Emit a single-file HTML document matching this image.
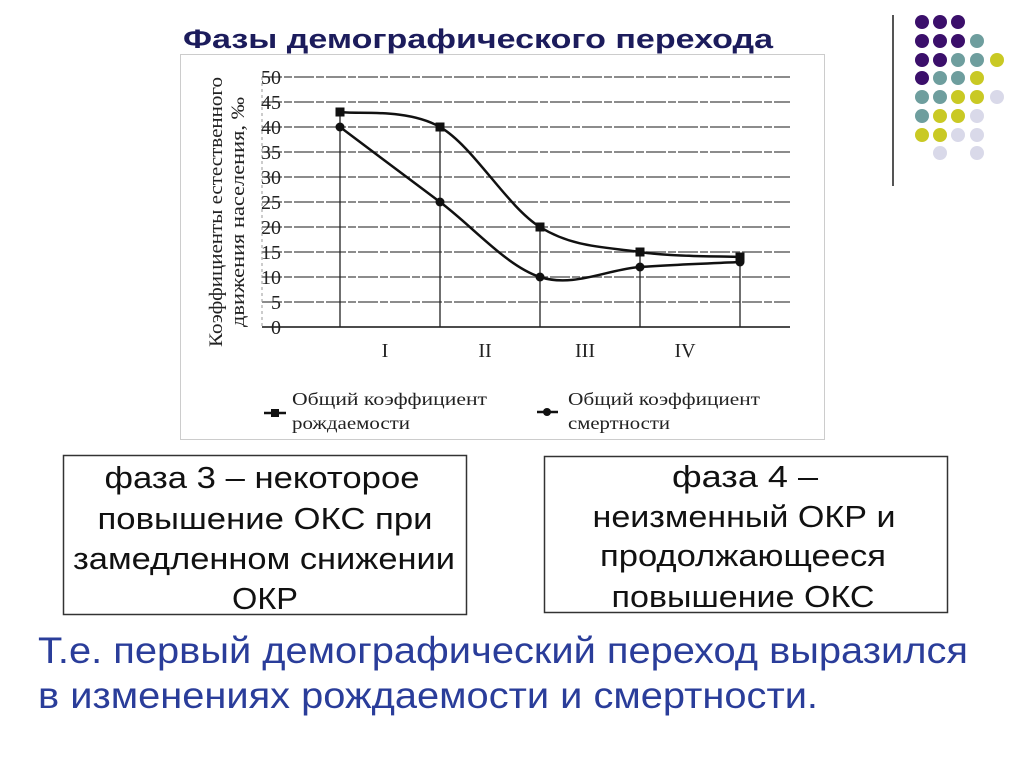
<!DOCTYPE html>
<html><head><meta charset="utf-8"><style>
body{margin:0;background:#fff;width:1024px;height:767px;overflow:hidden}
svg{display:block}
.s{font-family:"Liberation Serif","DejaVu Serif",serif;fill:#222}
.a{font-family:"Liberation Sans","DejaVu Sans",sans-serif}
</style></head><body>
<svg id="root" width="1024" height="767">
<line x1="893" y1="15" x2="893" y2="186" stroke="#555" stroke-width="2"/>
<g id="dots"></g>
<text x="478" y="48" text-anchor="middle" class="a" font-size="27" font-weight="bold" fill="#1c1c5c" textLength="590" lengthAdjust="spacingAndGlyphs">Фазы демографического перехода</text>
<rect x="180.5" y="54.5" width="644" height="385" fill="#fff" stroke="#ccc"/>
<g id="chart"></g>
<g transform="translate(228,212) rotate(-90)">
<text x="0" y="-6" text-anchor="middle" class="s" font-size="19" textLength="270" lengthAdjust="spacingAndGlyphs">Коэффициенты естественного</text>
<text x="0" y="16" text-anchor="middle" class="s" font-size="19" textLength="230" lengthAdjust="spacingAndGlyphs">движения населения, ‰</text>
</g>
<g>
<g>
<line x1="264" y1="413" x2="286" y2="413" stroke="#111" stroke-width="2.5"/><rect x="271" y="409" width="8" height="8" fill="#111"/>
<text x="292" y="405" class="s" font-size="18" textLength="195" lengthAdjust="spacingAndGlyphs">Общий коэффициент</text><text x="292" y="429" class="s" font-size="18" textLength="118" lengthAdjust="spacingAndGlyphs">рождаемости</text></g>
<g>
<line x1="537" y1="412" x2="558" y2="412" stroke="#111" stroke-width="2.5"/><circle cx="547" cy="412" r="4" fill="#111"/>
<text x="568" y="405" class="s" font-size="18" textLength="192" lengthAdjust="spacingAndGlyphs">Общий коэффициент</text><text x="568" y="429" class="s" font-size="18" textLength="102" lengthAdjust="spacingAndGlyphs">смертности</text></g>
</g>
<g class="a" font-size="31" fill="#111" text-anchor="middle">
<rect x="63.5" y="455.5" width="403" height="159" fill="none" stroke="#333" stroke-width="1.5"/>
<text x="262" y="488" textLength="315" lengthAdjust="spacingAndGlyphs">фаза 3 – некоторое</text>
<text x="265" y="529" textLength="335" lengthAdjust="spacingAndGlyphs">повышение ОКС при</text>
<text x="264" y="569" textLength="382" lengthAdjust="spacingAndGlyphs">замедленном снижении</text>
<text x="265" y="609" textLength="66" lengthAdjust="spacingAndGlyphs">ОКР</text>
</g>
<g class="a" font-size="31" fill="#111" text-anchor="middle">
<rect x="544.5" y="456.5" width="403" height="156" fill="none" stroke="#333" stroke-width="1.5"/>
<text x="745" y="487" textLength="146" lengthAdjust="spacingAndGlyphs">фаза 4 –</text>
<text x="744" y="527" textLength="303" lengthAdjust="spacingAndGlyphs">неизменный ОКР и</text>
<text x="743" y="566" textLength="286" lengthAdjust="spacingAndGlyphs">продолжающееся</text>
<text x="743" y="607" textLength="263" lengthAdjust="spacingAndGlyphs">повышение ОКС</text>
</g>
<g class="a" font-size="37" fill="#2a3d9a">
<text x="38" y="663" textLength="930" lengthAdjust="spacingAndGlyphs">Т.е. первый демографический переход выразился</text>
<text x="38" y="708" textLength="780" lengthAdjust="spacingAndGlyphs">в изменениях рождаемости и смертности.</text>
</g>
</svg>
<script>
const NS="http://www.w3.org/2000/svg";
const categories=["p1","p2","p3","p4","p5"];
const birthRate=[43,40,20,15,14];
const deathRate=[40,25,10,12,13];
const yTicks=[0,5,10,15,20,25,30,35,40,45,50];
const phaseLabels=["I","II","III","IV"];
const X0=340,DX=100,Y0=327,YS=5;
const xs=i=>X0+i*DX, ys=v=>Y0-v*YS;
const ch=document.getElementById('chart');
function mk(t,a,p){const e=document.createElementNS(NS,t);for(const k in a)e.setAttribute(k,a[k]);(p||ch).appendChild(e);return e;}
yTicks.forEach(v=>{
 const l=mk('line',{x1:262,x2:790,y1:ys(v),y2:ys(v),stroke:v===0?'#333':'#666','stroke-width':v===0?1.8:1.4,'stroke-dasharray':v===0?'':'20 2 8 2'});
 
 
 const t=mk('text',{x:281,y:ys(v)+7,'text-anchor':'end',class:'s','font-size':20});t.textContent=v;
 
 
});
mk('line',{x1:262,x2:262,y1:ys(50),y2:ys(0),stroke:'#999','stroke-dasharray':'3 3'});
phaseLabels.forEach((p,i)=>{
 const t=mk('text',{x:xs(i)+DX/2-5,y:357,'text-anchor':'middle',class:'s','font-size':20});t.textContent=p;
 
 
});
categories.forEach((c,i)=>{
 const l=mk('line',{x1:xs(i),x2:xs(i),y1:ys(0),y2:ys(Math.max(birthRate[i],deathRate[i])),stroke:'#222','stroke-width':1.3});
 
 
});
function path(arr){
 const P=arr.map((v,i)=>[xs(i),ys(v)]);let d=`M${P[0][0]},${P[0][1]}`;
 for(let i=0;i<P.length-1;i++){const p0=P[Math.max(i-1,0)],p1=P[i],p2=P[i+1],p3=P[Math.min(i+2,P.length-1)];
  d+=` C${p1[0]+(p2[0]-p0[0])/6},${p1[1]+(p2[1]-p0[1])/6} ${p2[0]-(p3[0]-p1[0])/6},${p2[1]-(p3[1]-p1[1])/6} ${p2[0]},${p2[1]}`;}
 return d;}
const pb=mk('path',{d:path(birthRate),fill:'none',stroke:'#111','stroke-width':2.5});


const pd=mk('path',{d:path(deathRate),fill:'none',stroke:'#111','stroke-width':2.5});


birthRate.forEach((v,i)=>{const r=mk('rect',{x:xs(i)-4.5,y:ys(v)-4.5,width:9,height:9,fill:'#111'});
 
 });
deathRate.forEach((v,i)=>{const c=mk('circle',{cx:xs(i),cy:ys(v),r:4.5,fill:'#111'});
 
 });
const C={P:'#3b0f6b',T:'#6e9e9e',Y:'#c9c924',L:'#d9d9e9'};
const rows=["PPP","PPPT","PPTTY","PTTY","TTYYL","TYYL","YYLL",".L.L"];
const dx=[922,940,958,977,997],dy=[22,41,60,78,97,116,135,153];
const dg=document.getElementById('dots');
rows.forEach((r,j)=>[...r].forEach((k,i)=>{if(k==='.')return;const c=mk('circle',{cx:dx[i],cy:dy[j],r:7,fill:C[k]},dg);
 
 }));
</script>
</body></html>
